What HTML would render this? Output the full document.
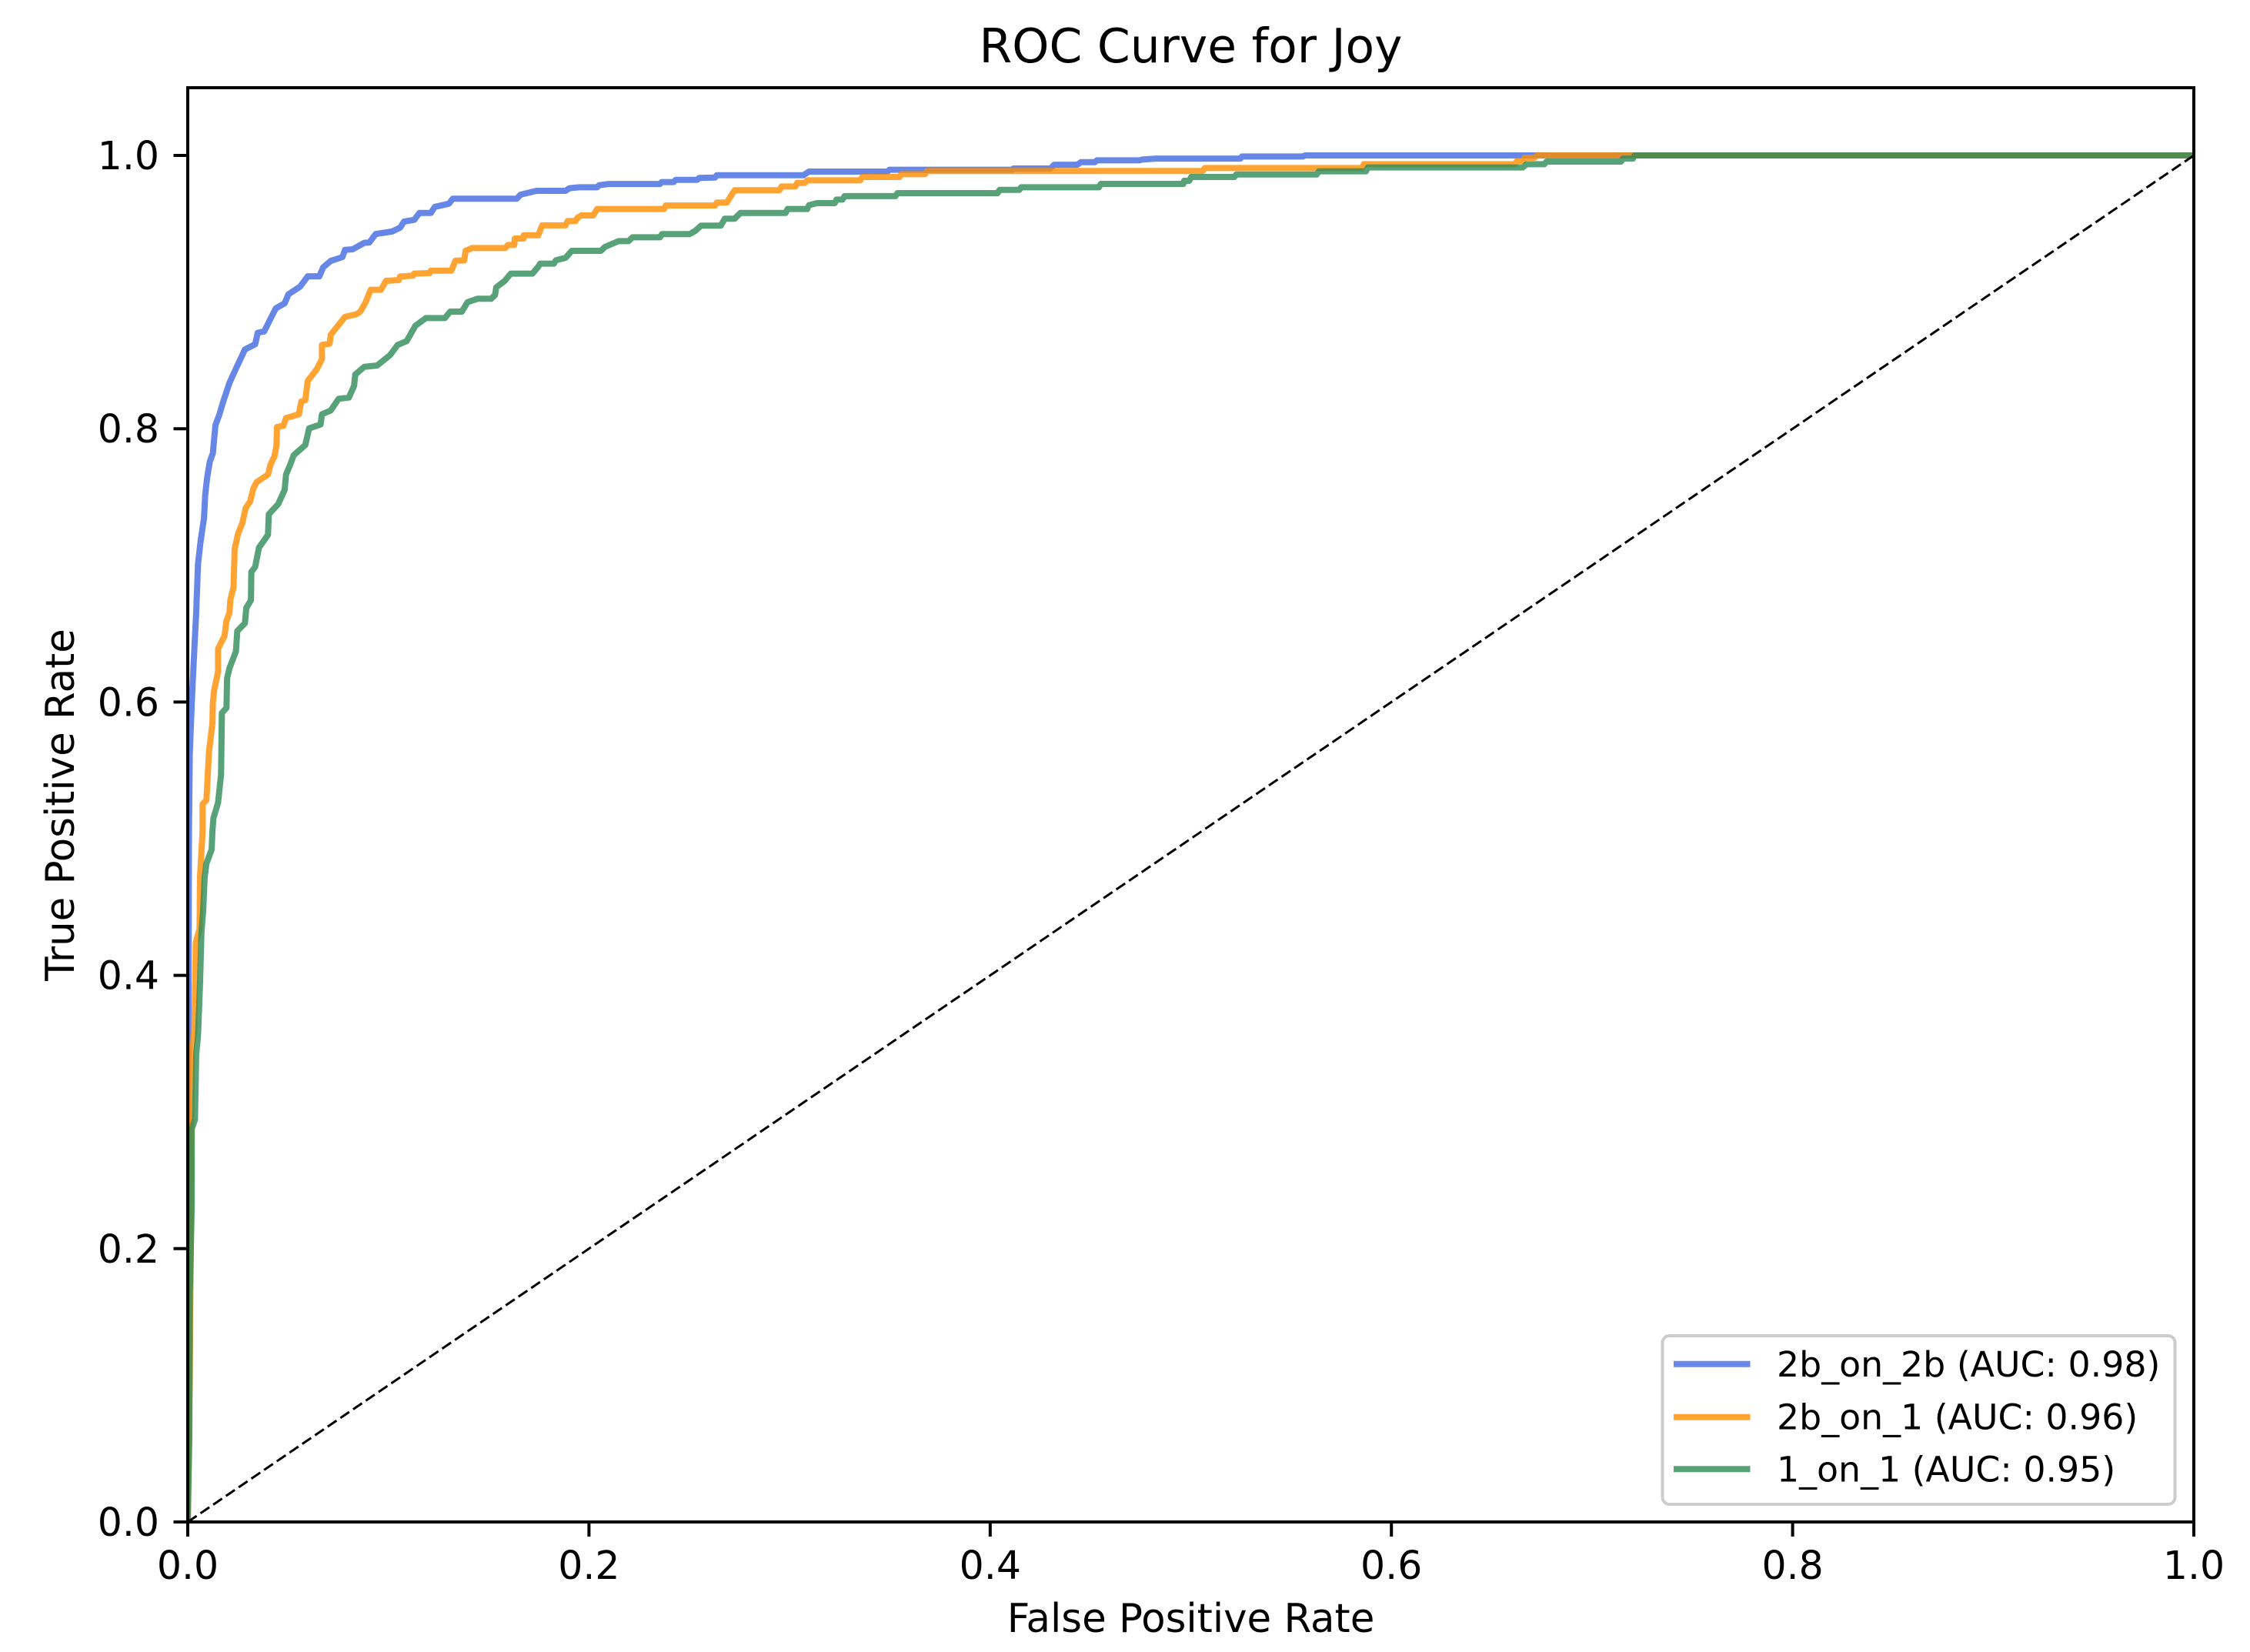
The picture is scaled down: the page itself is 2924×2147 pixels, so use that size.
<!DOCTYPE html>
<html>
<head>
<meta charset="utf-8">
<title>ROC Curve for Joy</title>
<style>
html,body{margin:0;padding:0;background:#fff;}
svg{display:block;}
text{font-family:"DejaVu Sans","Liberation Sans",sans-serif;fill:#000;}
</style>
</head>
<body>
<svg id="chart" xmlns="http://www.w3.org/2000/svg" width="2924" height="2147" viewBox="0 0 2924 2147">
  <rect x="0" y="0" width="2924" height="2147" fill="#fff"/>
  <defs><clipPath id="plot-clip"><rect x="244" y="114" width="2607" height="1864"/></clipPath></defs>
  <g id="curves" clip-path="url(#plot-clip)"></g>
  <g id="ticks"></g>
  <rect x="244" y="114" width="2607" height="1864" fill="none" stroke="#000" stroke-width="4"/>
  <text x="1547.5" y="81" font-size="61.4" text-anchor="middle">ROC Curve for Joy</text>
  <text x="1547.5" y="2121" font-size="51.4" text-anchor="middle">False Positive Rate</text>
  <text x="96" y="1046" font-size="51.4" text-anchor="middle" transform="rotate(-90 96 1046)">True Positive Rate</text>
  <g>
    <rect x="2160.5" y="1736" width="666" height="219" rx="9" ry="9" fill="#fff" fill-opacity="0.8" stroke="#ccc" stroke-width="4"/>
    <line x1="2175" y1="1772.7" x2="2274.5" y2="1772.7" stroke="#4169e1" stroke-opacity="0.8" stroke-width="8"/>
    <text x="2309" y="1789" font-size="45.8">2b_on_2b (AUC: 0.98)</text>
    <line x1="2175" y1="1841.7" x2="2274.5" y2="1841.7" stroke="#ff8c00" stroke-opacity="0.8" stroke-width="8"/>
    <text x="2309" y="1857.7" font-size="45.8">2b_on_1 (AUC: 0.96)</text>
    <line x1="2175" y1="1909.3" x2="2274.5" y2="1909.3" stroke="#2e8b57" stroke-opacity="0.8" stroke-width="8"/>
    <text x="2309" y="1925.7" font-size="45.8">1_on_1 (AUC: 0.95)</text>
  </g>
</svg>
<script>
var xTickValues = [0, 0.2, 0.4, 0.6, 0.8, 1];
var yTickValues = [0, 0.2, 0.4, 0.6, 0.8, 1];
var xTickLabels = ["0.0", "0.2", "0.4", "0.6", "0.8", "1.0"];
var yTickLabels = ["0.0", "0.2", "0.4", "0.6", "0.8", "1.0"];

var diagonalFpr = [0, 1];
var diagonalTpr = [0, 1];

var blueFpr = [0,.0003,.0006,.0010,.0020,.0029,.0042,.0051,.0064,.0081,.0087,.0097,.0110,.0125,.0138,.0157,.0176,.0208,.0240,.0285,.0336,.0349,.0381,.0419,.0439,.0483,.0502,.0560,.0598,.0656,.0675,.0713,.0771,.0784,.0822,.0880,.0905,.0937,.1020,.1059,.1078,.1129,.1155,.1212,.1231,.1302,.1321,.1640,.1659,.1738,.1883,.1903,.1952,.2041,.2051,.2098,.2354,.2363,.2422,.2432,.2539,.2549,.2628,.2637,.3069,.3097,.3489,.3498,.4112,.4116,.4300,.4319,.4434,.4453,.4522,.4532,.4745,.4757,.4825,.5247,.5255,.5558,.5570,1];
var blueTpr = [0,.35,.5056,.5619,.5995,.6276,.6652,.7008,.7177,.7346,.7515,.7646,.7759,.7820,.8026,.8101,.8195,.8336,.8439,.8580,.8618,.8702,.8712,.8824,.8881,.8918,.8984,.9040,.9115,.9115,.9181,.9228,.9256,.9309,.9313,.9360,.9363,.9425,.9444,.9472,.9516,.9529,.9579,.9579,.9623,.9647,.9683,.9683,.9713,.9741,.9741,.9760,.9767,.9767,.9782,.9791,.9791,.9805,.9805,.9821,.9821,.9835,.9838,.9855,.9855,.9882,.9882,.9895,.9895,.9904,.9904,.9932,.9932,.9951,.9951,.9964,.9964,.9970,.9977,.9977,.9992,.9992,1,1];

var orangeFpr = [0,.0005,.0010,.0015,.0018,.0020,.0033,.0040,.0059,.0061,.0074,.0074,.0093,.0106,.0123,.0125,.0132,.0151,.0151,.0183,.0193,.0208,.0212,.0228,.0234,.0251,.0272,.0289,.0311,.0327,.0343,.0400,.0413,.0432,.0442,.0445,.0477,.0490,.0554,.0566,.0586,.0598,.0643,.0669,.0669,.0707,.0713,.0784,.0841,.0860,.0886,.0912,.0963,.0988,.1052,.1059,.1123,.1129,.1206,.1212,.1314,.1334,.1378,.1385,.1417,.1583,.1596,.1628,.1630,.1675,.1675,.1747,.1767,.1883,.1894,.1933,.1943,.1962,.2021,.2041,.2374,.2383,.2628,.2637,.2687,.2707,.2726,.2949,.2960,.3029,.3038,.3076,.3088,.3352,.3362,.3548,.3557,.3675,.3685,.5059,.5070,.5853,.5863,.6616,.6626,.6655,.6665,.6714,.6724,1];
var orangeTpr = [0,.0628,.1037,.1991,.3012,.3455,.3591,.4239,.4341,.4715,.5056,.5253,.5282,.5638,.5845,.5995,.6089,.6220,.6389,.6483,.6595,.6652,.6745,.6839,.7121,.7233,.7309,.7421,.7468,.7562,.7609,.7665,.7740,.7797,.7872,.8012,.8022,.8078,.8106,.8200,.8209,.8350,.8435,.8510,.8613,.8622,.8688,.8819,.8838,.8857,.8923,.9017,.9017,.9082,.9088,.9114,.9120,.9135,.9139,.9157,.9157,.9229,.9232,.9302,.9322,.9322,.9345,.9345,.9392,.9392,.9416,.9416,.9488,.9488,.9520,.9520,.9544,.9561,.9561,.9608,.9608,.9633,.9633,.9655,.9655,.9702,.9745,.9745,.9773,.9773,.9799,.9799,.9818,.9818,.9842,.9842,.9863,.9863,.9886,.9886,.9908,.9908,.9936,.9936,.9959,.9959,.9983,.9983,1,1];

var greenFpr = [0,.0008,.0010,.0020,.0020,.0036,.0042,.0051,.0061,.0068,.0077,.0084,.0093,.0119,.0123,.0128,.0151,.0166,.0170,.0193,.0196,.0208,.0240,.0247,.0285,.0292,.0315,.0317,.0336,.0355,.0400,.0404,.0451,.0483,.0490,.0509,.0528,.0586,.0605,.0662,.0669,.0713,.0752,.0803,.0829,.0835,.0880,.0944,.1008,.1046,.1091,.1135,.1187,.1282,.1308,.1366,.1395,.1444,.1512,.1532,.1538,.1580,.1610,.1718,.1747,.1757,.1825,.1835,.1884,.1914,.2060,.2079,.2109,.2148,.2197,.2217,.2354,.2364,.2501,.2530,.2559,.2657,.2677,.2726,.2755,.2980,.2990,.3088,.3097,.3137,.3225,.3234,.3264,.3274,.3528,.3538,.4037,.4047,.4145,.4155,.4542,.4552,.4963,.4967,.4992,.5002,.5217,.5227,.5628,.5638,.5873,.5883,.6655,.6674,.6763,.6773,.7145,.7154,.7204,.7213,1];
var greenTpr = [0,.0628,.1650,.2331,.2876,.2944,.3421,.3557,.3932,.4307,.4477,.4715,.4818,.4920,.5056,.5150,.5263,.5469,.5920,.5957,.6173,.6248,.6370,.6520,.6577,.6689,.6745,.6952,.6989,.7130,.7224,.7374,.7449,.7553,.7665,.7731,.7806,.7881,.8003,.8031,.8106,.8134,.8219,.8228,.8313,.8397,.8453,.8463,.8538,.8613,.8641,.8754,.8810,.8810,.8857,.8857,.8926,.8951,.8951,.8979,.9035,.9082,.9135,.9135,.9185,.9208,.9208,.9233,.9251,.9302,.9302,.9330,.9349,.9373,.9373,.9401,.9401,.9424,.9424,.9448,.9486,.9486,.9537,.9537,.9579,.9579,.9608,.9608,.9636,.9651,.9651,.9677,.9677,.9702,.9702,.9724,.9724,.9748,.9748,.9767,.9767,.9792,.9792,.9814,.9814,.9842,.9842,.9861,.9861,.9884,.9884,.9912,.9912,.9936,.9936,.9955,.9955,.9977,.9977,1,1];

var SVG_NS = "http://www.w3.org/2000/svg";
function scaleX(v) { return 244 + 2607 * v; }
function scaleY(v) { return 1978 - 1776 * v; }
function pathFrom(xs, ys) {
  var d = "";
  for (var i = 0; i < xs.length; i++) {
    d += (i ? "L" : "M") + scaleX(xs[i]).toFixed(2) + " " + scaleY(ys[i]).toFixed(2);
  }
  return d;
}
function makeCurve(xs, ys, color) {
  var p = document.createElementNS(SVG_NS, "path");
  p.setAttribute("d", pathFrom(xs, ys));
  p.setAttribute("fill", "none");
  p.setAttribute("stroke", color);
  p.setAttribute("stroke-opacity", "0.8");
  p.setAttribute("stroke-width", "8");
  p.setAttribute("stroke-linejoin", "round");
  p.setAttribute("stroke-linecap", "square");
  return p;
}
var curves = document.getElementById("curves");

var blueCurve = makeCurve(blueFpr, blueTpr, "#4169e1");


curves.appendChild(blueCurve);

var orangeCurve = makeCurve(orangeFpr, orangeTpr, "#ff8c00");


curves.appendChild(orangeCurve);

var greenCurve = makeCurve(greenFpr, greenTpr, "#2e8b57");


curves.appendChild(greenCurve);

var diagonal = document.createElementNS(SVG_NS, "path");
diagonal.setAttribute("d", pathFrom(diagonalFpr, diagonalTpr));
diagonal.setAttribute("fill", "none");
diagonal.setAttribute("stroke", "#000");
diagonal.setAttribute("stroke-width", "3");
diagonal.setAttribute("stroke-dasharray", "14 6");


curves.appendChild(diagonal);

var ticks = document.getElementById("ticks");
xTickValues.forEach(function (v, i) {
  var x = scaleX(v);
  var t = document.createElementNS(SVG_NS, "line");
  t.setAttribute("x1", x); t.setAttribute("x2", x);
  t.setAttribute("y1", 1978); t.setAttribute("y2", 1997);
  t.setAttribute("stroke", "#000"); t.setAttribute("stroke-width", "4");
  
  
  ticks.appendChild(t);
  var l = document.createElementNS(SVG_NS, "text");
  l.setAttribute("x", x); l.setAttribute("y", 2052);
  l.setAttribute("font-size", "50.5"); l.setAttribute("text-anchor", "middle");
  l.textContent = xTickLabels[i];
  
  
  ticks.appendChild(l);
});
yTickValues.forEach(function (v, i) {
  var y = scaleY(v);
  var t = document.createElementNS(SVG_NS, "line");
  t.setAttribute("x1", 225.5); t.setAttribute("x2", 244);
  t.setAttribute("y1", y); t.setAttribute("y2", y);
  t.setAttribute("stroke", "#000"); t.setAttribute("stroke-width", "4");
  
  
  ticks.appendChild(t);
  var l = document.createElementNS(SVG_NS, "text");
  l.setAttribute("x", 207); l.setAttribute("y", y + 18);
  l.setAttribute("font-size", "50.5"); l.setAttribute("text-anchor", "end");
  l.textContent = yTickLabels[i];
  
  
  ticks.appendChild(l);
});
</script>
</body>
</html>
